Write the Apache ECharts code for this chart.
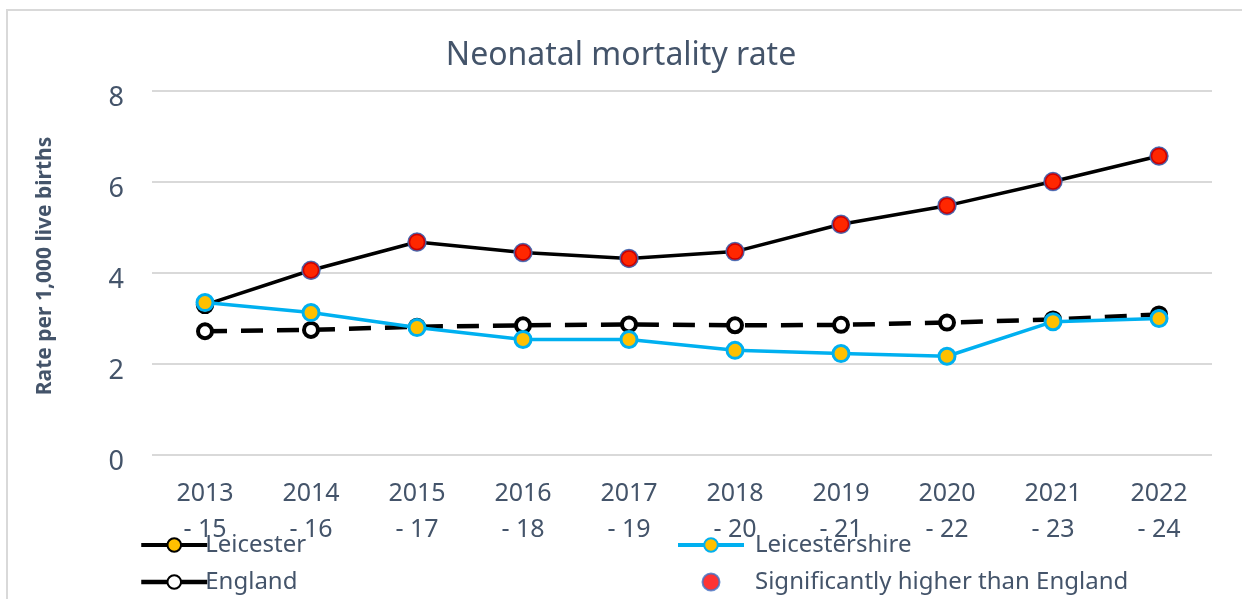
<!DOCTYPE html>
<html>
<head>
<meta charset="utf-8">
<script src="https://cdn.jsdelivr.net/npm/echarts@6/dist/echarts.min.js"></script>
<style>
  html, body { margin: 0; padding: 0; background: #fff; }
  #chart { width: 1242px; height: 599px; }
</style>
</head>
<body>
<div id="chart"></div>
<script>
// periods (x axis)
const periods = ['2013\n- 15', '2014\n- 16', '2015\n- 17', '2016\n- 18', '2017\n- 19',
  '2018\n- 20', '2019\n- 21', '2020\n- 22', '2021\n- 23', '2022\n- 24']
// rates per 1,000 live births
const leicester = [3.30, 4.06, 4.68, 4.45, 4.32, 4.47, 5.07, 5.48, 6.01, 6.57]
const leicestershire = [3.35, 3.13, 2.80, 2.54, 2.54, 2.30, 2.23, 2.17, 2.93, 3.00]
const england = [2.72, 2.75, 2.82, 2.85, 2.87, 2.85, 2.86, 2.91, 2.98, 3.09]
// Leicester points significantly higher than England (null = not significant)
const significant = [null, 4.06, 4.68, 4.45, 4.32, 4.47, 5.07, 5.48, 6.01, 6.57]
const yTicks = [0, 2, 4, 6, 8]

const textColor = '#44546A'
const font = '"Noto Sans", "Open Sans", sans-serif'

const legendText = { color: textColor, fontSize: 24, lineHeight: 24, fontFamily: font }

const chart = echarts.init(document.getElementById('chart'))
chart.setOption({
  backgroundColor: '#fff',
  animation: false,
  textStyle: { fontFamily: font },
  title: {
    text: 'Neonatal mortality rate',
    left: 'center',
    top: 35,
    textStyle: { color: textColor, fontSize: 32, fontWeight: 'normal', fontFamily: font }
  },
  graphic: [{
    type: 'rect',
    shape: { x: 7, y: 10, width: 1260, height: 620 },
    style: { fill: 'none', stroke: '#d9d9d9', lineWidth: 2 },
    silent: true
  }],
  grid: { left: 152, right: 30, top: 91, bottom: 144 },
  legend: [
    {
      data: [
        { name: 'Leicester', lineStyle: { width: 4 } },
        { name: 'England', lineStyle: { width: 4.5, type: 'solid' } }
      ],
      orient: 'vertical',
      left: 139,
      top: 533,
      padding: 0,
      itemGap: 13,
      itemWidth: 66,
      itemHeight: 17,
      textStyle: Object.assign({}, legendText, { padding: [0, 0, 0, -7] })
    },
    {
      data: [
        { name: 'Leicestershire', lineStyle: { width: 4 } },
        'Significantly higher than England'
      ],
      orient: 'vertical',
      left: 676,
      top: 533,
      padding: 0,
      itemGap: 13,
      itemWidth: 66,
      itemHeight: 17,
      textStyle: Object.assign({}, legendText, { padding: [0, 0, 0, 6] })
    }
  ],
  xAxis: {
    type: 'category',
    data: periods,
    boundaryGap: true,
    axisLine: { show: false },
    axisTick: { show: false },
    axisLabel: { color: textColor, fontSize: 25, lineHeight: 36, margin: 21, fontFamily: font }
  },
  yAxis: {
    type: 'value',
    min: yTicks[0],
    max: yTicks[yTicks.length - 1],
    interval: 2,
    name: 'Rate per 1,000 live births',
    nameLocation: 'middle',
    nameRotate: 90,
    nameGap: 96,
    nameTextStyle: { color: textColor, fontSize: 21, fontWeight: 'bold', fontFamily: font, padding: [0, 0, 0, 14] },
    axisLine: { show: false },
    axisTick: { show: false },
    axisLabel: {
      color: textColor,
      fontSize: 27,
      margin: 28,
      fontFamily: font,
      formatter: '{v|{value}}',
      rich: { v: { color: textColor, fontSize: 27, fontFamily: font, padding: [14, 0, 0, 0] } }
    },
    splitLine: { lineStyle: { color: '#d9d9d9', width: 2 } }
  },
  series: [
    {
      name: 'England',
      type: 'line',
      data: england,
      symbol: 'circle',
      symbolSize: 14,
      lineStyle: { color: '#000', width: 4.5, type: [22, 14] },
      itemStyle: { color: '#fff', borderColor: '#000', borderWidth: 4 },
      z: 2
    },
    {
      name: 'Leicester',
      type: 'line',
      data: leicester,
      symbol: 'circle',
      symbolSize: 16,
      lineStyle: { color: '#000', width: 3.5 },
      itemStyle: { color: '#FFC000', borderColor: '#000', borderWidth: 2.5 },
      z: 3
    },
    {
      name: 'Leicestershire',
      type: 'line',
      data: leicestershire,
      symbol: 'circle',
      symbolSize: 16,
      lineStyle: { color: '#00B0F0', width: 3.5 },
      itemStyle: { color: '#FFC000', borderColor: '#00B0F0', borderWidth: 3 },
      z: 4
    },
    {
      name: 'Significantly higher than England',
      type: 'scatter',
      data: significant,
      symbol: 'circle',
      symbolSize: 18,
      itemStyle: { color: '#FF0000', borderColor: '#4472C4', borderWidth: 1.5 },
      z: 5
    }
  ]
})
</script>
</body>
</html>
